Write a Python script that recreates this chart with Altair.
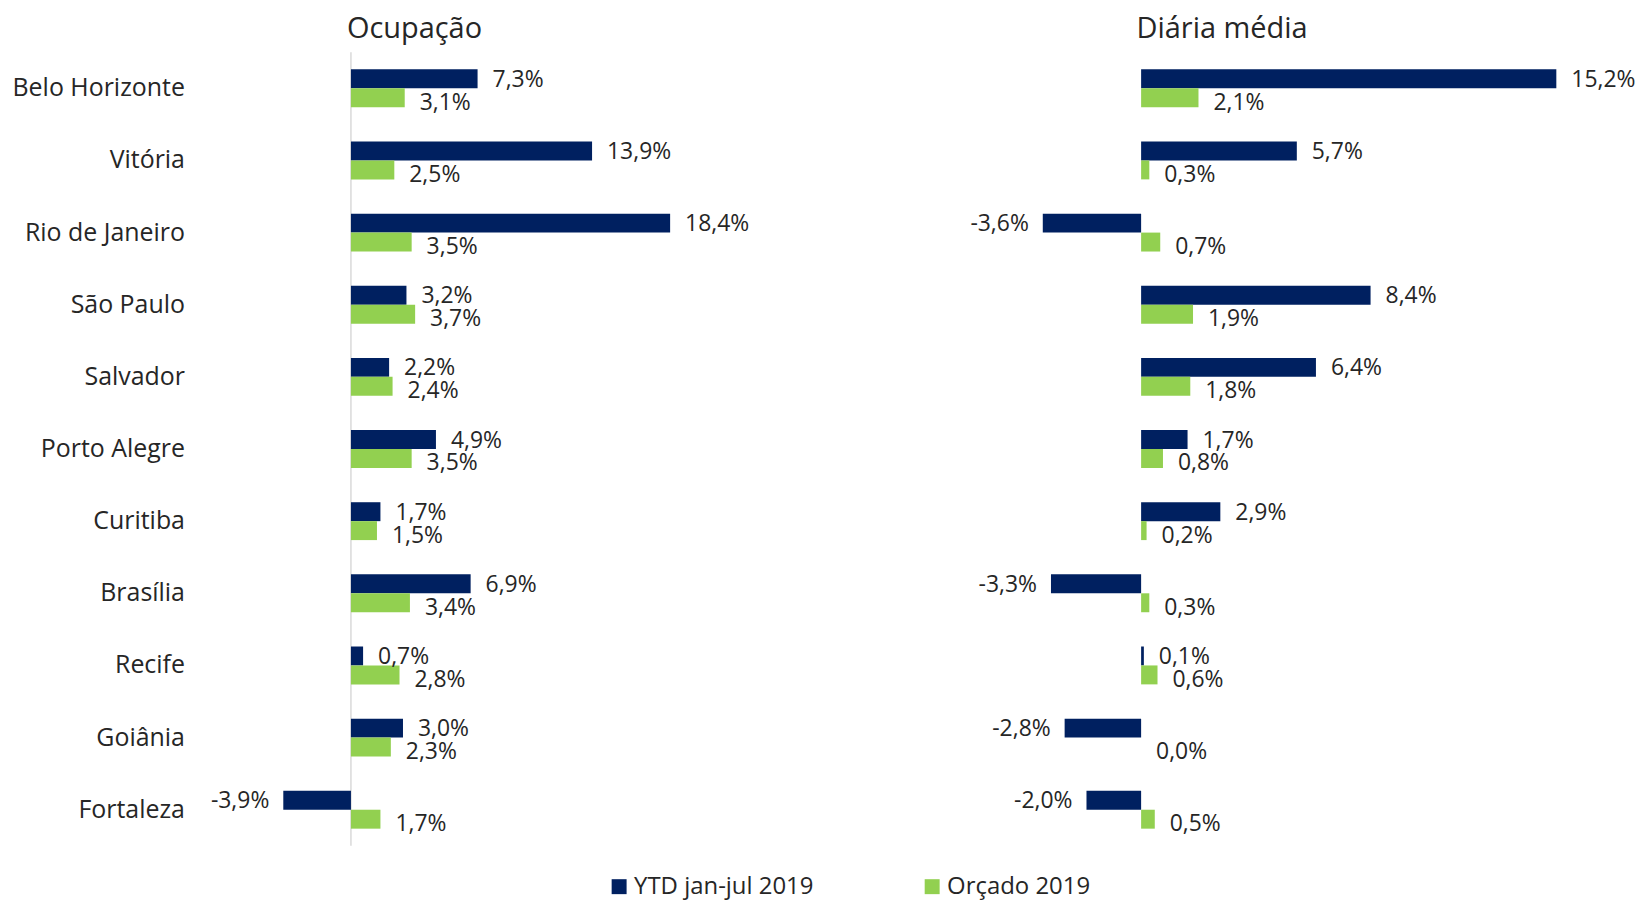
import altair as alt
import pandas as pd

cidades = ["Belo Horizonte", "Vitória", "Rio de Janeiro", "São Paulo", "Salvador",
           "Porto Alegre", "Curitiba", "Brasília", "Recife", "Goiânia", "Fortaleza"]
series = ["YTD jan-jul 2019", "Orçado 2019"]
ocup_ytd = [7.3, 13.9, 18.4, 3.2, 2.2, 4.9, 1.7, 6.9, 0.7, 3.0, -3.9]
ocup_orc = [3.1, 2.5, 3.5, 3.7, 2.4, 3.5, 1.5, 3.4, 2.8, 2.3, 1.7]
diaria_ytd = [15.2, 5.7, -3.6, 8.4, 6.4, 1.7, 2.9, -3.3, 0.1, -2.8, -2.0]
diaria_orc = [2.1, 0.3, 0.7, 1.9, 1.8, 0.8, 0.2, 0.3, 0.6, 0.0, 0.5]
cores = ["#002060", "#92D050"]

FONT = "Open Sans"
TXT = "#262626"


def make_df(ytd, orc):
    rows = []
    for c, a, b in zip(cidades, ytd, orc):
        rows.append({"cidade": c, "serie": series[0], "valor": a})
        rows.append({"cidade": c, "serie": series[1], "valor": b})
    df = pd.DataFrame(rows)
    df["rotulo"] = df["valor"].map(lambda v: f"{v:.1f}%".replace(".", ","))
    return df


legend = alt.Legend(orient="none", legendX=344, legendY=825, direction="horizontal",
                    title=None, symbolType="square", symbolSize=225, symbolStrokeWidth=0,
                    labelFontSize=24, labelFont=FONT, labelColor=TXT, columnPadding=106,
                    labelOffset=3, labelLimit=500)


def panel(df, title, domain, width, title_dx, show_y, zero_line):
    base = alt.Chart(df)
    yaxis = alt.Axis(title=None, ticks=False, domain=False, grid=False, labelFontSize=25,
                     labelFont=FONT, labelColor=TXT, labelPadding=80) if show_y else None
    y = alt.Y("cidade:N", sort=cidades,
              scale=alt.Scale(paddingInner=0.475, paddingOuter=0.2375), axis=yaxis)
    yoff = alt.YOffset("serie:N", sort=series, scale=alt.Scale(paddingInner=0, paddingOuter=0))
    x = alt.X("valor:Q", scale=alt.Scale(domain=domain, nice=False), axis=None)
    color = alt.Color("serie:N", sort=series, scale=alt.Scale(domain=series, range=cores),
                      legend=legend)
    bars = base.mark_bar().encode(x=x, y=y, yOffset=yoff, color=color)
    layers = []
    if zero_line:
        zdf = pd.DataFrame({"z": [0]})
        layers.append(alt.Chart(zdf).mark_rule(color="#d9d9d9", strokeWidth=1.5).encode(
            x=alt.X("z:Q", scale=alt.Scale(domain=domain, nice=False), axis=None)))
    layers.append(bars)
    for s, shift in zip(series, [1, 5]):
        for cond, al, dx in [("datum.valor >= 0", "left", 15), ("datum.valor < 0", "right", -14)]:
            layers.append(
                base.transform_filter(f"datum.serie == '{s}' && {cond}").mark_text(
                    align=al, baseline="middle", dx=dx, dy=shift, fontSize=23, font=FONT,
                    color=TXT
                ).encode(x=x, y=y, yOffset=yoff, text="rotulo:N")
            )
    return alt.layer(*layers).properties(
        width=width, height=796,
        title=alt.TitleParams(title, anchor="start", frame="group", dx=title_dx, fontSize=29,
                              font=FONT, fontWeight="normal", color=TXT,
                              baseline="alphabetic", offset=-15),
    )


left = panel(make_df(ocup_ytd, ocup_orc), "Ocupação", [-5, 21], 452.4, 83, True, True)
right = panel(make_df(diaria_ytd, diaria_orc), "Diária média", [-4, 16], 548, 105, False, False)

chart = alt.hconcat(left, right, spacing=317, bounds="flush").resolve_scale(
    x="independent", color="shared"
).properties(
    padding={"left": 3, "top": 5, "right": 0, "bottom": 0}
).configure_view(stroke=None)

chart.save("out.html", embed_options={"renderer": "svg", "actions": False})
